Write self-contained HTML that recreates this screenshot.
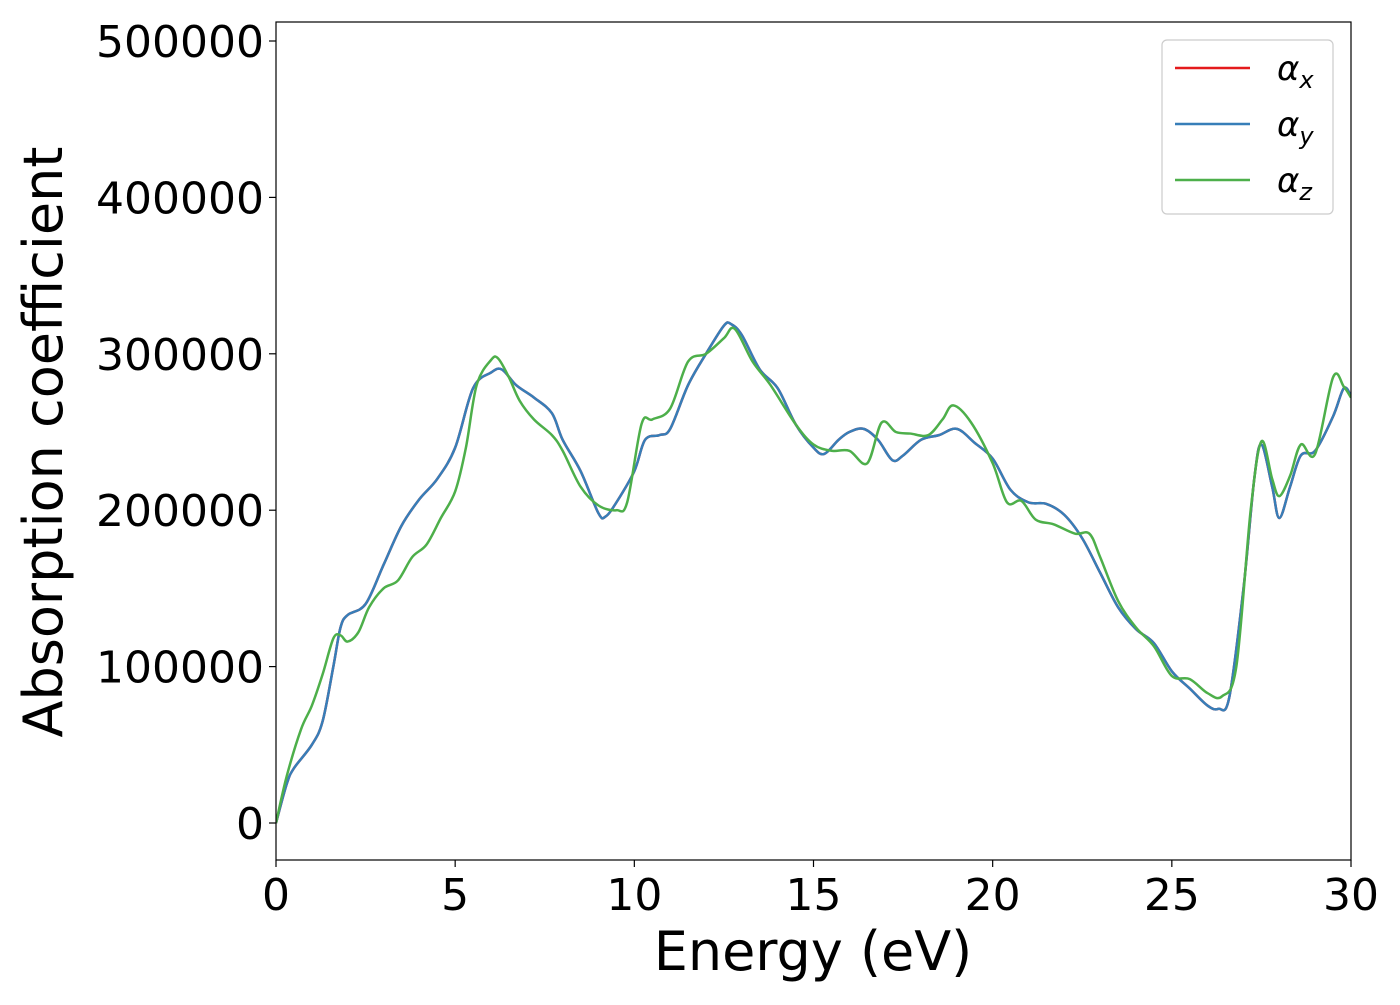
<!DOCTYPE html>
<html><head><meta charset="utf-8"><style>
body{margin:0;background:#fff;}
text{font-family:"DejaVu Sans","Liberation Sans",sans-serif;}
</style></head><body>
<svg id="chart" width="1400" height="1000" xmlns="http://www.w3.org/2000/svg"></svg>
<script>
const xTicks=[0,5,10,15,20,25,30];
const yTicks=[0,100000,200000,300000,400000,500000];
const blueE=[0,0.3,0.5,1,1.3,1.6,1.8,2,2.5,3,3.5,4,4.5,5,5.5,6,6.3,6.7,7.2,7.7,8,8.5,9,9.2,9.5,10,10.3,10.7,11,11.5,12,12.5,12.7,13,13.5,14,14.5,15,15.3,15.7,16,16.4,16.8,17.2,17.5,18,18.5,19,19.5,20,20.5,21,21.5,22,22.5,23,23.5,24,24.5,25,25.5,26,26.3,26.6,27,27.3,27.5,27.8,28,28.3,28.6,29,29.5,29.8,30];
const blueV=[0,25,35,50,65,100,125,133,140,165,190,207,220,240,278,288,290,280,272,262,245,225,198,196,205,225,245,248,252,280,300,318,319,312,290,278,255,240,236,245,250,252,245,232,235,245,248,252,243,233,213,205,204,197,182,160,138,124,115,97,86,75,73,80,150,220,242,215,195,215,235,238,260,278,273];
const greenE=[0,0.3,0.7,1,1.3,1.6,1.8,2,2.3,2.6,3,3.4,3.8,4.2,4.6,5,5.3,5.6,6,6.2,6.5,6.8,7.2,7.7,8,8.5,9,9.5,9.8,10.2,10.5,11,11.5,12,12.5,12.8,13.3,13.8,14.5,15,15.5,16,16.5,16.9,17.3,17.7,18.2,18.6,18.9,19.4,20,20.4,20.8,21.2,21.7,22.3,22.7,23,23.5,24,24.5,25,25.5,26,26.4,26.8,27.2,27.5,27.8,28,28.3,28.6,29,29.5,29.8,30];
const greenV=[0,30,60,75,95,118,120,116,122,138,150,155,170,178,195,212,240,280,296,297,285,270,258,248,238,215,203,200,205,255,258,265,295,300,310,316,295,280,255,242,238,238,230,256,250,249,248,258,267,256,230,205,206,194,191,185,185,170,142,125,113,94,92,83,81,100,200,244,220,209,222,242,236,285,279,272];
const L=276,R=1351,T=22,B=860;
const xs=v=>L+(v/30)*(R-L);
const ys=v=>823-(v/500000)*(823-41);
const svg=document.getElementById('chart');
const NS='http://www.w3.org/2000/svg';
function mk(t,a,p){const e=document.createElementNS(NS,t);for(const k in a)e.setAttribute(k,a[k]);(p||svg).appendChild(e);return e;}
function pathFor(E,V){const P=E.map((e,i)=>[xs(e),ys(V[i]*1000)]);let d='M'+P[0][0]+','+P[0][1];
for(let i=0;i<P.length-1;i++){const p0=P[Math.max(0,i-1)],p1=P[i],p2=P[i+1],p3=P[Math.min(P.length-1,i+2)];
const c1=[p1[0]+(p2[0]-p0[0])/6,p1[1]+(p2[1]-p0[1])/6],c2=[p2[0]-(p3[0]-p1[0])/6,p2[1]-(p3[1]-p1[1])/6];
d+=` C${c1[0]},${c1[1]} ${c2[0]},${c2[1]} ${p2[0]},${p2[1]}`;}return d;}
const clip=mk('clipPath',{id:'pc'});mk('rect',{x:L,y:T,width:R-L,height:B-T},clip);
const g=mk('g',{'clip-path':'url(#pc)'});
let p=mk('path',{d:pathFor(blueE,blueV),fill:'none',stroke:'#e41a1c','stroke-width':2.5},g);

p=mk('path',{d:pathFor(blueE,blueV),fill:'none',stroke:'#377eb8','stroke-width':2.5},g);

p=mk('path',{d:pathFor(greenE,greenV),fill:'none',stroke:'#4daf4a','stroke-width':2.5},g);

const fr=mk('rect',{x:L,y:T,width:R-L,height:B-T,fill:'none',stroke:'#000','stroke-width':1.2});

xTicks.forEach(t=>{mk('line',{x1:xs(t),x2:xs(t),y1:B,y2:B+7,stroke:'#000','stroke-width':1.2});
const tx=mk('text',{x:xs(t),y:B+50,'font-size':44,'text-anchor':'middle'});tx.textContent=t;
});
yTicks.forEach(t=>{mk('line',{x1:L-7,x2:L,y1:ys(t),y2:ys(t),stroke:'#000','stroke-width':1.2});
const tx=mk('text',{x:L-12,y:ys(t)+16,'font-size':44,'text-anchor':'end'});tx.textContent=t;
});
let t=mk('text',{x:813,y:970,'font-size':54,'text-anchor':'middle'});t.textContent='Energy (eV)';

t=mk('text',{x:0,y:0,'font-size':54,'text-anchor':'middle',transform:'translate(62,442) rotate(-90)'});t.textContent='Absorption coefficient';

const lg=mk('g',{});
mk('rect',{x:1162,y:40,width:171,height:174,rx:5,fill:'#fff',stroke:'#ccc','stroke-width':1.2},lg);
[['#e41a1c','x',68],['#377eb8','y',124],['#4daf4a','z',180]].forEach(([c,s,y])=>{
mk('line',{x1:1175,x2:1250,y1:y,y2:y,stroke:c,'stroke-width':2.5},lg);
const tx=mk('text',{x:1277,y:y+12,'font-size':34,'font-style':'italic'},lg);

tx.innerHTML='α<tspan font-size="24" dy="8">'+s+'</tspan>';});
</script>
</body></html>
